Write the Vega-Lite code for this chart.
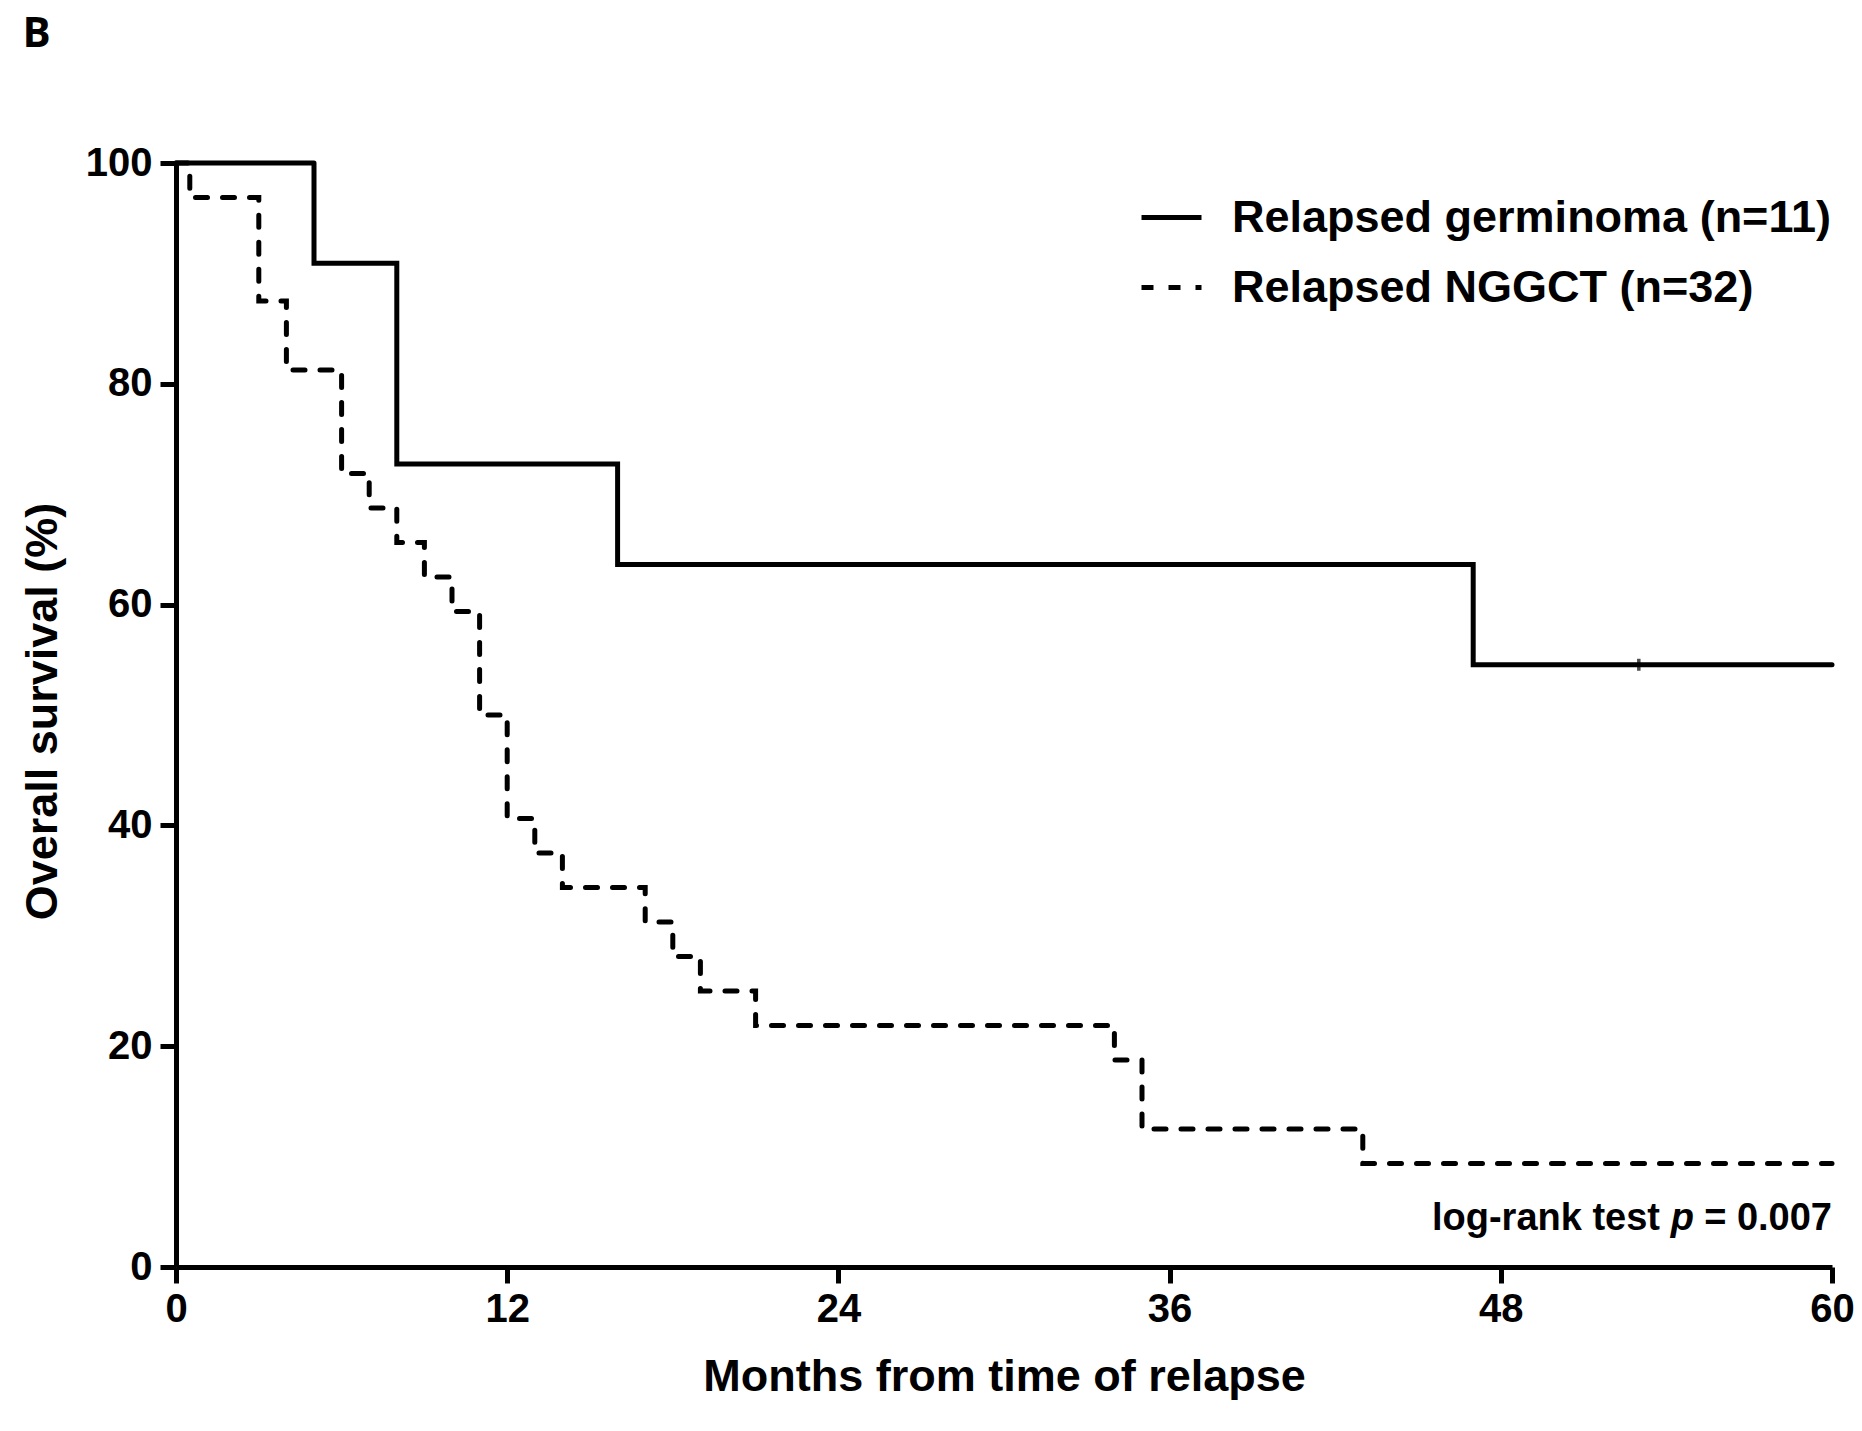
{
  "$schema": "https://vega.github.io/schema/vega-lite/v6.json",
  "width": 1656,
  "height": 1104,
  "autosize": {"type": "none"},
  "padding": {"left": 176, "top": 163, "right": 30, "bottom": 164},
  "background": "white",
  "config": {"view": {"stroke": null}, "font": "Liberation Sans"},
  "datasets": {
    "km": [
      {"group": "Relapsed germinoma (n=11)", "month": 0, "survival": 100},
      {"group": "Relapsed germinoma (n=11)", "month": 5, "survival": 90.91},
      {"group": "Relapsed germinoma (n=11)", "month": 8, "survival": 72.73},
      {"group": "Relapsed germinoma (n=11)", "month": 16, "survival": 63.64},
      {"group": "Relapsed germinoma (n=11)", "month": 47, "survival": 54.55},
      {"group": "Relapsed germinoma (n=11)", "month": 60, "survival": 54.55},
      {"group": "Relapsed NGGCT (n=32)", "month": 0, "survival": 100},
      {"group": "Relapsed NGGCT (n=32)", "month": 0.5, "survival": 96.875},
      {"group": "Relapsed NGGCT (n=32)", "month": 3, "survival": 87.5},
      {"group": "Relapsed NGGCT (n=32)", "month": 4, "survival": 81.25},
      {"group": "Relapsed NGGCT (n=32)", "month": 6, "survival": 71.875},
      {"group": "Relapsed NGGCT (n=32)", "month": 7, "survival": 68.75},
      {"group": "Relapsed NGGCT (n=32)", "month": 8, "survival": 65.625},
      {"group": "Relapsed NGGCT (n=32)", "month": 9, "survival": 62.5},
      {"group": "Relapsed NGGCT (n=32)", "month": 10, "survival": 59.375},
      {"group": "Relapsed NGGCT (n=32)", "month": 11, "survival": 50},
      {"group": "Relapsed NGGCT (n=32)", "month": 12, "survival": 40.625},
      {"group": "Relapsed NGGCT (n=32)", "month": 13, "survival": 37.5},
      {"group": "Relapsed NGGCT (n=32)", "month": 14, "survival": 34.375},
      {"group": "Relapsed NGGCT (n=32)", "month": 17, "survival": 31.25},
      {"group": "Relapsed NGGCT (n=32)", "month": 18, "survival": 28.125},
      {"group": "Relapsed NGGCT (n=32)", "month": 19, "survival": 25},
      {"group": "Relapsed NGGCT (n=32)", "month": 21, "survival": 21.875},
      {"group": "Relapsed NGGCT (n=32)", "month": 34, "survival": 18.75},
      {"group": "Relapsed NGGCT (n=32)", "month": 35, "survival": 12.5},
      {"group": "Relapsed NGGCT (n=32)", "month": 43, "survival": 9.375},
      {"group": "Relapsed NGGCT (n=32)", "month": 60, "survival": 9.375}
    ],
    "censor": [
      {"group": "Relapsed germinoma (n=11)", "month": 53, "survival": 54.55}
    ],
    "one": [{}]
  },
  "layer": [
    {
      "data": {"name": "km"},
      "mark": {"type": "line", "interpolate": "step-after", "color": "black", "strokeCap": "round", "strokeWidth": 5},
      "encoding": {
        "x": {
          "field": "month", "type": "quantitative",
          "scale": {"domain": [0, 60], "nice": false, "zero": false},
          "axis": {
            "values": [0, 12, 24, 36, 48, 60],
            "title": "Months from time of relapse",
            "titleFont": "Liberation Sans", "titleFontSize": 45, "titleFontWeight": "bold", "titleColor": "black",
            "titleX": 828, "titleY": 123, "titleBaseline": "alphabetic", "titleAlign": "center",
            "labelFont": "Liberation Sans", "labelFontSize": 40, "labelFontWeight": "bold", "labelColor": "black",
            "labelPadding": 38, "labelBaseline": "alphabetic", "labelFlush": false,
            "tickSize": 16, "tickWidth": 5, "tickColor": "black",
            "domainWidth": 5, "domainColor": "black", "grid": false
          }
        },
        "y": {
          "field": "survival", "type": "quantitative",
          "scale": {"domain": [0, 100], "nice": false},
          "axis": {
            "values": [0, 20, 40, 60, 80, 100],
            "title": "Overall survival (%)",
            "titleFont": "Liberation Sans", "titleFontSize": 45, "titleFontWeight": "bold", "titleColor": "black",
            "titleX": -134, "titleY": 548, "titleAngle": 270, "titleBaseline": "middle", "titleAlign": "center",
            "labelFont": "Liberation Sans", "labelFontSize": 40, "labelFontWeight": "bold", "labelColor": "black",
            "labelPadding": 8, "labelFlush": false,
            "tickSize": 16, "tickWidth": 5, "tickColor": "black",
            "domainWidth": 5, "domainColor": "black", "grid": false
          }
        },
        "strokeDash": {
          "field": "group", "type": "nominal",
          "scale": {"domain": ["Relapsed germinoma (n=11)", "Relapsed NGGCT (n=32)"], "range": [[1, 0], [12, 15]]},
          "legend": {
            "title": null, "orient": "none", "legendX": 963, "legendY": 22,
            "labelFont": "Liberation Sans", "labelFontSize": 45, "labelFontWeight": "bold", "labelColor": "black",
            "labelLimit": 0, "labelOffset": 28,
            "symbolType": "stroke", "symbolSize": 3600, "symbolStrokeWidth": 5, "symbolStrokeColor": "black",
            "rowPadding": 14, "padding": 0
          }
        }
      }
    },
    {
      "data": {"name": "censor"},
      "mark": {"type": "tick", "orient": "vertical", "color": "black", "size": 12, "thickness": 3.5},
      "encoding": {
        "x": {"field": "month", "type": "quantitative"},
        "y": {"field": "survival", "type": "quantitative"}
      }
    },
    {
      "data": {"name": "one"},
      "mark": {"type": "text", "text": "= 0.007", "align": "right", "baseline": "alphabetic", "font": "Liberation Sans", "fontSize": 38, "fontWeight": "bold", "color": "black"},
      "encoding": {"x": {"datum": 60, "type": "quantitative"}, "y": {"datum": 3.35, "type": "quantitative"}}
    },
    {
      "data": {"name": "one"},
      "mark": {"type": "text", "text": "p", "align": "right", "baseline": "alphabetic", "dx": -138, "font": "Liberation Sans", "fontSize": 38, "fontWeight": "bold", "fontStyle": "italic", "color": "black"},
      "encoding": {"x": {"datum": 60, "type": "quantitative"}, "y": {"datum": 3.35, "type": "quantitative"}}
    },
    {
      "data": {"name": "one"},
      "mark": {"type": "text", "text": "log-rank test", "align": "right", "baseline": "alphabetic", "dx": -172, "font": "Liberation Sans", "fontSize": 38, "fontWeight": "bold", "color": "black"},
      "encoding": {"x": {"datum": 60, "type": "quantitative"}, "y": {"datum": 3.35, "type": "quantitative"}}
    },
    {
      "data": {"name": "one"},
      "mark": {"type": "text", "text": "B", "align": "left", "baseline": "alphabetic", "font": "Open Sans", "fontSize": 42, "fontWeight": "bold", "color": "black"},
      "encoding": {"x": {"datum": -5.56, "type": "quantitative"}, "y": {"datum": 110.5, "type": "quantitative"}}
    }
  ]
}
